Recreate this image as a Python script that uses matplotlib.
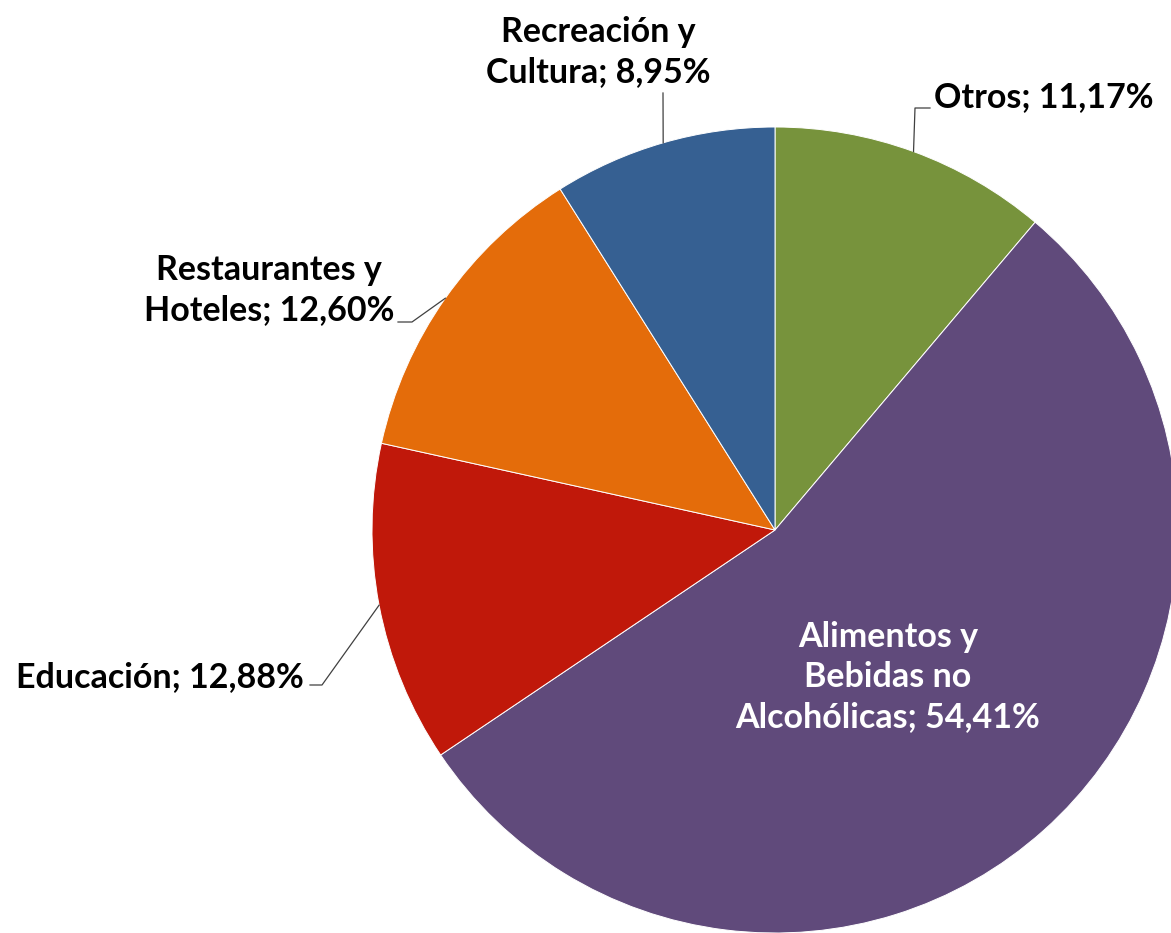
import numpy as np
import matplotlib.pyplot as plt

labels = ["Otros", "Alimentos y\nBebidas no\nAlcohólicas", "Educación",
          "Restaurantes y\nHoteles", "Recreación y\nCultura"]
values = [11.17, 54.41, 12.88, 12.60, 8.95]
colors = ["#77933C", "#604A7B", "#C0180A", "#E46C0A", "#366092"]

plt.rcParams['font.family'] = ['Lato', 'DejaVu Sans']

W, H = 1171, 933
fig = plt.figure(figsize=(W / 100, H / 100), dpi=100)
ax = fig.add_axes([0, 0, 1, 1])

cx, cy, r = 775, H - 530, 403
wedges, _ = ax.pie(values, colors=colors, startangle=90, counterclock=False,
                   center=(cx, cy), radius=r, frame=True,
                   wedgeprops=dict(edgecolor='white', linewidth=0.7))
ax.set_xlim(0, W)
ax.set_ylim(0, H)
ax.set_aspect('equal')
ax.axis('off')


def pct(v):
    return f"{v:.2f}".replace('.', ',') + "%"


def edge_point(w):
    a = np.deg2rad((w.theta1 + w.theta2) / 2)
    return cx + r * np.cos(a), cy + r * np.sin(a)


fs = 24.5
# label text position, alignment and elbow points (pixels, y from top)
layout = {
    0: dict(xy=(934, 97), ha='left', elbow=[(915, 108), (930, 108)]),
    2: dict(xy=(304, 677), ha='right', elbow=[(322, 685), (310, 685)]),
    3: dict(xy=(394, 290), ha='right', elbow=[(412, 322), (398, 322)]),
    4: dict(xy=(598, 52), ha='center', elbow=[(663, 93)]),
}

for i, w in enumerate(wedges):
    txt = labels[i].split('\n')
    txt[-1] = txt[-1] + "; " + pct(values[i])
    s = "\n".join(txt)
    if i == 1:
        ax.text(888, H - 677, s, ha='center', va='center', color='white',
                fontsize=fs, fontweight='bold', linespacing=1.3)
        continue
    L = layout[i]
    px, py = edge_point(w)
    xs = [px] + [p[0] for p in L['elbow']]
    ys = [py] + [H - p[1] for p in L['elbow']]
    ax.plot(xs, ys, color='#404040', lw=0.9)
    ax.text(L['xy'][0], H - L['xy'][1], s, ha=L['ha'], va='center',
            color='black', fontsize=fs, fontweight='bold', linespacing=1.3,
            multialignment='center')

fig.savefig("out.png", dpi=100)
